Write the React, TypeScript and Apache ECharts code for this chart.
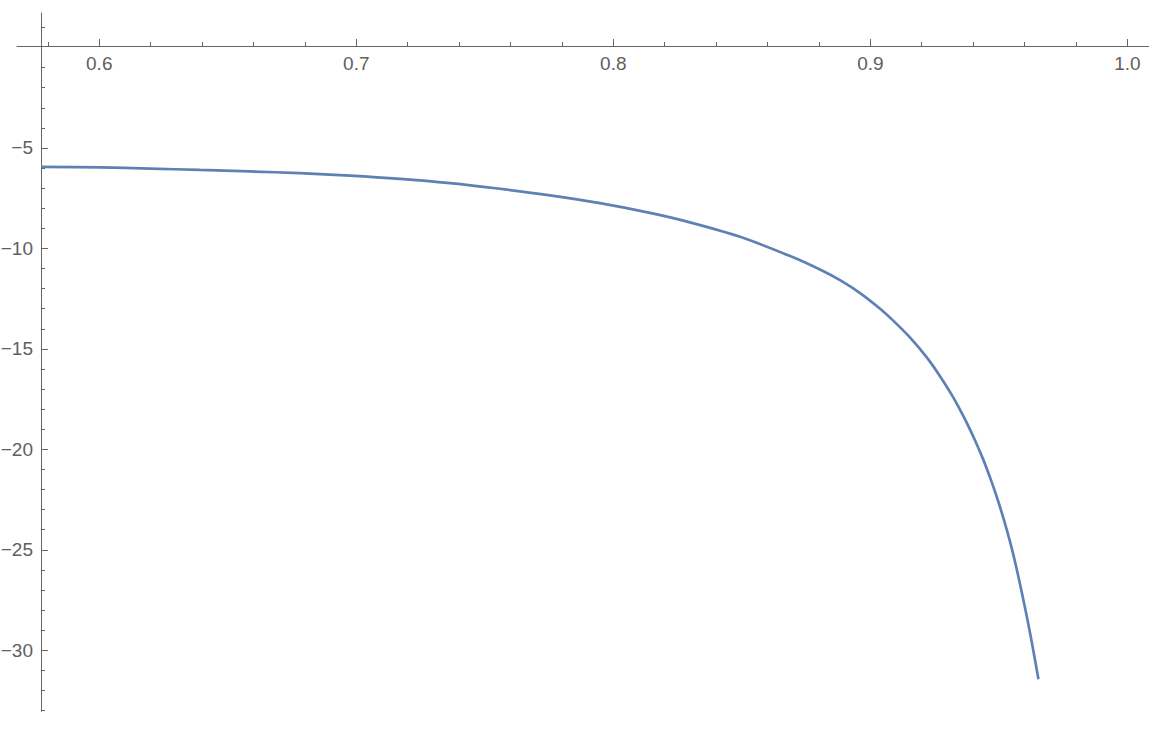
import React, { useEffect, useRef } from "react";
import * as echarts from "echarts";

// Curve points (x, y)
const curveX = [
  0.5774, 0.6003, 0.6197, 0.6392, 0.6586, 0.6781, 0.6975, 0.717, 0.7365,
  0.7559, 0.7754, 0.7948, 0.8143, 0.8298, 0.8493, 0.8688, 0.8804, 0.8882,
  0.896, 0.9038, 0.9088, 0.9154, 0.9221, 0.9271, 0.9322, 0.9368, 0.9407,
  0.9439, 0.9466, 0.9493, 0.952, 0.9544, 0.9567, 0.9586, 0.9606, 0.9621,
  0.9637, 0.9654,
];
const curveY = [
  -5.943, -5.968, -6.023, -6.093, -6.165, -6.255, -6.375, -6.535, -6.75,
  -7.03, -7.355, -7.745, -8.23, -8.7, -9.42, -10.38, -11.05, -11.58, -12.22,
  -13.0, -13.58, -14.43, -15.45, -16.36, -17.4, -18.5, -19.55, -20.5, -21.41,
  -22.41, -23.52, -24.62, -25.82, -26.93, -28.15, -29.12, -30.22, -31.44,
];

// Axis ranges and ticks
const xMin = 0.568;
const xMax = 1.0083;
const yMin = -33.04;
const yMax = 1.72;
const xMajorTicks = [0.6, 0.7, 0.8, 0.9, 1.0];
const xMinorTicks = [
  0.58, 0.62, 0.64, 0.66, 0.68, 0.72, 0.74, 0.76, 0.78, 0.82, 0.84, 0.86, 0.88,
  0.92, 0.94, 0.96, 0.98,
];
const yMajorTicks = [-30, -25, -20, -15, -10, -5];
const yMinorTicks = [
  1, -1, -2, -3, -4, -6, -7, -8, -9, -11, -12, -13, -14, -16, -17, -18, -19,
  -21, -22, -23, -24, -26, -27, -28, -29, -31, -32, -33,
];

const AXIS_COLOR = "#666666";
const LABEL_COLOR = "#606060";
const LINE_COLOR = "#5E81B5";
const FONT = "'Liberation Sans', Arial, Helvetica, sans-serif";

export default function App() {
  const ref = useRef<HTMLDivElement>(null);

  useEffect(() => {
    if (!ref.current) return;
    const chart = echarts.init(ref.current, null, { renderer: "svg" });
    const data = curveX.map((x, i) => [x, curveY[i]]);

    const baseX = {
      type: "value",
      min: xMin,
      max: xMax,
      position: "bottom",
      offset: -665.3,
      splitLine: { show: false },
    };
    const baseY = {
      type: "value",
      min: yMin,
      max: yMax,
      position: "left",
      offset: -24,
      splitLine: { show: false },
    };

    chart.setOption({
      animation: false,
      textStyle: { fontFamily: FONT },
      grid: {
        left: 17,
        right: 5.3,
        top: 13,
        bottom: 18.7,
        containLabel: false,
        outerBoundsMode: "none",
      },
      xAxis: [
        {
          ...baseX,
          axisLine: {
            show: true,
            onZero: false,
            lineStyle: { color: AXIS_COLOR, width: 1 },
          },
          axisTick: {
            show: true,
            inside: true,
            length: 7,
            customValues: xMajorTicks,
            lineStyle: { color: AXIS_COLOR, width: 1 },
          },
          axisLabel: {
            show: true,
            customValues: xMajorTicks,
            formatter: (v: number) => v.toFixed(1),
            color: LABEL_COLOR,
            fontSize: 19,
            fontFamily: FONT,
            margin: 8,
          },
        },
        {
          ...baseX,
          axisLine: { show: false, onZero: false },
          axisTick: {
            show: true,
            inside: true,
            length: 4,
            customValues: xMinorTicks,
            lineStyle: { color: AXIS_COLOR, width: 1 },
          },
          axisLabel: { show: false },
        },
      ],
      yAxis: [
        {
          ...baseY,
          axisLine: {
            show: true,
            onZero: false,
            lineStyle: { color: AXIS_COLOR, width: 1 },
          },
          axisTick: {
            show: true,
            inside: true,
            length: 7,
            customValues: yMajorTicks,
            lineStyle: { color: AXIS_COLOR, width: 1 },
          },
          axisLabel: {
            show: true,
            customValues: yMajorTicks,
            formatter: (v: number) => String(v).replace("-", "\u2212"),
            color: LABEL_COLOR,
            fontSize: 19,
            fontFamily: FONT,
            margin: 8,
          },
        },
        {
          ...baseY,
          axisLine: { show: false, onZero: false },
          axisTick: {
            show: true,
            inside: true,
            length: 4,
            customValues: yMinorTicks,
            lineStyle: { color: AXIS_COLOR, width: 1 },
          },
          axisLabel: { show: false },
        },
      ],
      series: [
        {
          type: "line",
          xAxisIndex: 0,
          yAxisIndex: 0,
          data,
          showSymbol: false,
          symbol: "none",
          smooth: 0.3,
          lineStyle: { color: LINE_COLOR, width: 2.7 },
        },
      ],
    });

    return () => chart.dispose();
  }, []);

  return (
    <div
      ref={ref}
      style={{
        position: "absolute",
        left: 0,
        top: 0,
        width: 1154,
        height: 730,
        background: "#ffffff",
      }}
    />
  );
}
